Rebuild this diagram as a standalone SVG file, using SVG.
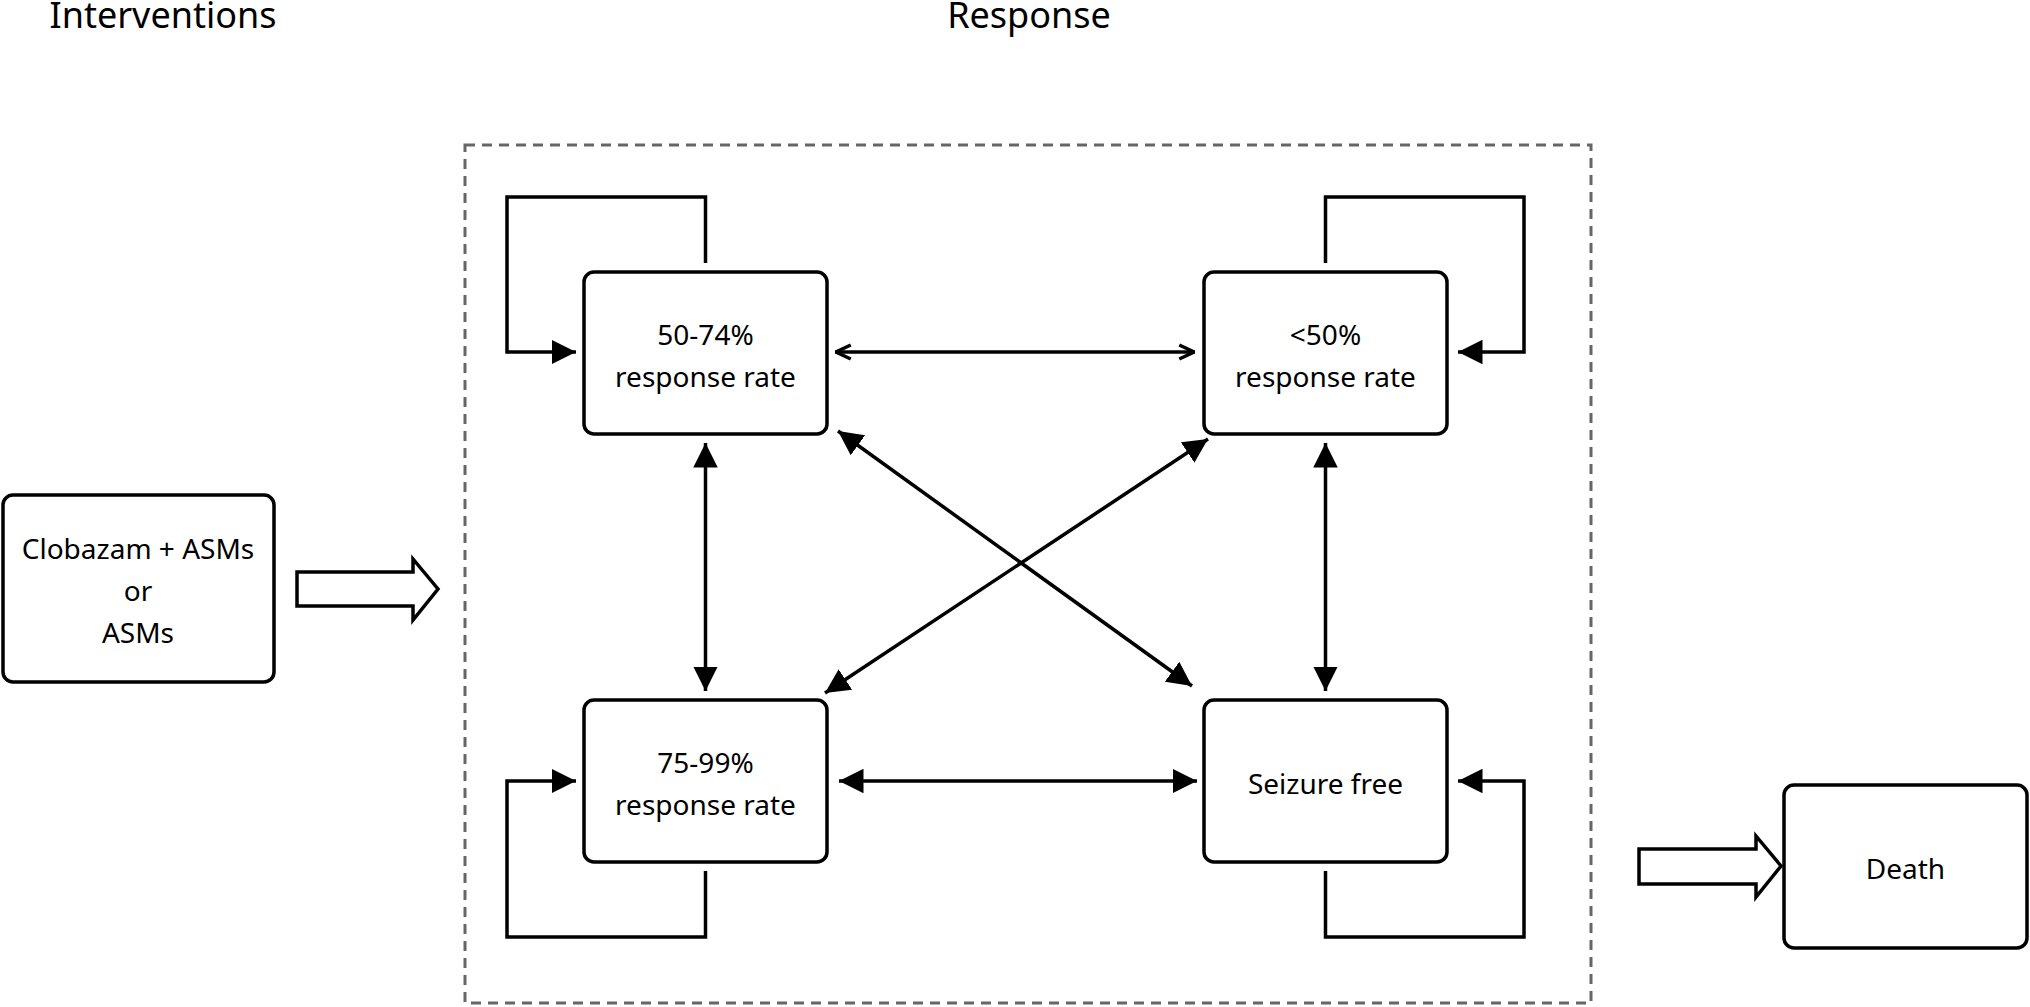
<svg xmlns="http://www.w3.org/2000/svg" width="2030" height="1007" viewBox="0 0 2030 1007">
<style>
text{font-family:"Noto Sans","Liberation Sans",sans-serif;fill:#000;text-anchor:middle}
.t{font-size:36px}.n{font-size:28px}
.box{fill:#fff;stroke:#000;stroke-width:3.5}
.c{fill:none;stroke:#000;stroke-width:3.5}
.h{fill:#fff;stroke:#000;stroke-width:3.5;stroke-linejoin:miter}
</style>
<defs>
<marker id="f" viewBox="0 0 10 10" refX="10" refY="5" markerWidth="7" markerHeight="7" markerUnits="strokeWidth" orient="auto-start-reverse"><path d="M0,0L10,5L0,10Z" fill="#000"/></marker>
<marker id="o" viewBox="0 0 10 10" refX="10" refY="5" markerWidth="5" markerHeight="7" markerUnits="strokeWidth" orient="auto-start-reverse"><path d="M1,1L9.5,5L1,9" fill="none" stroke="#000" stroke-width="2"/></marker>
</defs>
<rect width="2030" height="1007" fill="#fff"/>
<text class="t" x="163" y="28">Interventions</text>
<text class="t" x="1029" y="28">Response</text>
<rect x="465" y="145" width="1126" height="858" fill="none" stroke="#666" stroke-width="3" stroke-dasharray="10,7"/>
<g id="connectors">
<path class="c" d="M705.5,263V197H507V352H576" marker-end="url(#f)"/>
<path class="c" d="M1325.5,263V197H1524V352H1458" marker-end="url(#f)"/>
<path class="c" d="M705.5,871V937H507V781H576" marker-end="url(#f)"/>
<path class="c" d="M1325.5,871V937H1524V781H1458" marker-end="url(#f)"/>
<path class="c" d="M835,352H1195" marker-start="url(#o)" marker-end="url(#o)"/>
<path class="c" d="M839,781H1197" marker-start="url(#f)" marker-end="url(#f)"/>
<path class="c" d="M705.5,443V691" marker-start="url(#f)" marker-end="url(#f)"/>
<path class="c" d="M1325.5,443V691" marker-start="url(#f)" marker-end="url(#f)"/>
<path class="c" d="M838,431L1192,686" marker-start="url(#f)" marker-end="url(#f)"/>
<path class="c" d="M1208,439L825,693" marker-start="url(#f)" marker-end="url(#f)"/>
<path class="h" d="M297,572H413V559L438,589L413,620V606H297Z"/>
<path class="h" d="M1639,849H1756V836L1781,866L1756,897V884H1639Z"/>
</g>
<g id="n1"><rect class="box" x="3" y="495" width="271" height="187" rx="10"/><text class="n" x="138" y="559">Clobazam + ASMs</text><text class="n" x="138" y="601">or</text><text class="n" x="138" y="643">ASMs</text></g>
<g id="n2"><rect class="box" x="584" y="272" width="243" height="162" rx="10"/><text class="n" x="705.5" y="345">50-74%</text><text class="n" x="705.5" y="387">response rate</text></g>
<g id="n3"><rect class="box" x="1204" y="272" width="243" height="162" rx="10"/><text class="n" x="1325.5" y="345">&lt;50%</text><text class="n" x="1325.5" y="387">response rate</text></g>
<g id="n4"><rect class="box" x="584" y="700" width="243" height="162" rx="10"/><text class="n" x="705.5" y="773">75-99%</text><text class="n" x="705.5" y="815">response rate</text></g>
<g id="n5"><rect class="box" x="1204" y="700" width="243" height="162" rx="10"/><text class="n" x="1325.5" y="794">Seizure free</text></g>
<g id="n6"><rect class="box" x="1784" y="785" width="243" height="163" rx="10"/><text class="n" x="1905.5" y="879">Death</text></g>
</svg>
